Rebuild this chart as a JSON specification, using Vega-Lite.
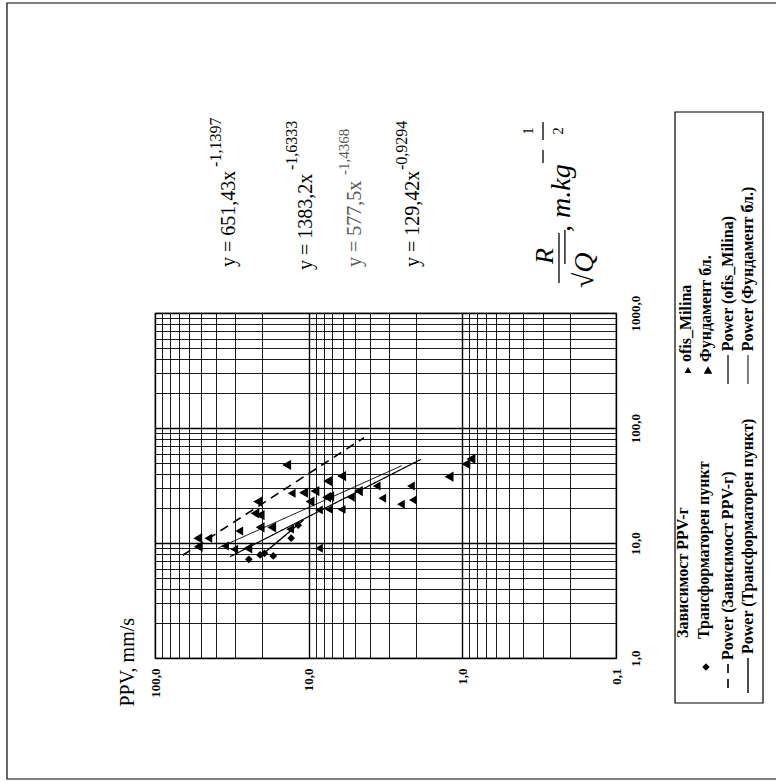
{
  "$schema": "https://vega.github.io/schema/vega-lite/v6.json",
  "width": 461,
  "height": 345,
  "autosize": {"type": "none"},
  "padding": {"left": 155, "top": 313, "right": 160, "bottom": 124},
  "background": "white",
  "config": {"view": {"stroke": "black", "strokeWidth": 1.2}},
  "datasets": {
    "points": [
      {"series": "Фундамент бл.", "ppv": 13.9, "rq": 47.7},
      {"series": "Фундамент бл.", "ppv": 6.1, "rq": 38.2},
      {"series": "Фундамент бл.", "ppv": 7.52, "rq": 34.6},
      {"series": "Фундамент бл.", "ppv": 1.22, "rq": 37.7},
      {"series": "Фундамент бл.", "ppv": 0.948, "rq": 48.6},
      {"series": "Фундамент бл.", "ppv": 0.879, "rq": 53.8},
      {"series": "Фундамент бл.", "ppv": 10.8, "rq": 27.4},
      {"series": "Фундамент бл.", "ppv": 9.1, "rq": 28.3},
      {"series": "Фундамент бл.", "ppv": 9.8, "rq": 22.9},
      {"series": "Фундамент бл.", "ppv": 7.64, "rq": 25.0},
      {"series": "Фундамент бл.", "ppv": 7.3, "rq": 25.4},
      {"series": "Фундамент бл.", "ppv": 4.75, "rq": 28.3},
      {"series": "Фундамент бл.", "ppv": 21.5, "rq": 22.9},
      {"series": "Фундамент бл.", "ppv": 22.4, "rq": 18.1},
      {"series": "Фундамент бл.", "ppv": 20.7, "rq": 17.5},
      {"series": "Фундамент бл.", "ppv": 20.7, "rq": 13.7},
      {"series": "Фундамент бл.", "ppv": 17.4, "rq": 13.7},
      {"series": "Фундамент бл.", "ppv": 52.7, "rq": 11.0},
      {"series": "Фундамент бл.", "ppv": 52.3, "rq": 9.29},
      {"series": "Фундамент бл.", "ppv": 24.9, "rq": 9.0},
      {"series": "ofis_Milina", "ppv": 3.61, "rq": 31.3},
      {"series": "ofis_Milina", "ppv": 2.16, "rq": 31.3},
      {"series": "ofis_Milina", "ppv": 12.9, "rq": 27.1},
      {"series": "ofis_Milina", "ppv": 5.31, "rq": 25.0},
      {"series": "ofis_Milina", "ppv": 3.32, "rq": 24.5},
      {"series": "ofis_Milina", "ppv": 2.1, "rq": 23.7},
      {"series": "ofis_Milina", "ppv": 2.51, "rq": 21.7},
      {"series": "ofis_Milina", "ppv": 8.57, "rq": 19.4},
      {"series": "ofis_Milina", "ppv": 7.38, "rq": 19.6},
      {"series": "ofis_Milina", "ppv": 6.1, "rq": 19.6},
      {"series": "ofis_Milina", "ppv": 28.3, "rq": 12.7},
      {"series": "ofis_Milina", "ppv": 13.2, "rq": 13.2},
      {"series": "ofis_Milina", "ppv": 45.0, "rq": 11.0},
      {"series": "ofis_Milina", "ppv": 35.0, "rq": 9.42},
      {"series": "ofis_Milina", "ppv": 30.5, "rq": 8.81},
      {"series": "ofis_Milina", "ppv": 8.57, "rq": 9.0},
      {"series": "Трансформаторен пункт", "ppv": 24.5, "rq": 7.21},
      {"series": "Трансформаторен пункт", "ppv": 20.7, "rq": 7.87},
      {"series": "Трансформаторен пункт", "ppv": 19.4, "rq": 8.13},
      {"series": "Трансформаторен пункт", "ppv": 17.0, "rq": 7.71},
      {"series": "Трансформаторен пункт", "ppv": 13.0, "rq": 11.0},
      {"series": "Трансформаторен пункт", "ppv": 11.7, "rq": 14.3}
    ],
    "trends": [
      {"series": "Зависимост PPV-г", "ppv": 66.0, "rq": 7.82},
      {"series": "Зависимост PPV-г", "ppv": 4.36, "rq": 82.4},
      {"series": "Фундамент бл.", "ppv": 38.7, "rq": 9.05},
      {"series": "Фундамент бл.", "ppv": 2.48, "rq": 47.0},
      {"series": "ofis_Milina", "ppv": 32.5, "rq": 7.6},
      {"series": "ofis_Milina", "ppv": 1.86, "rq": 53.4},
      {"series": "Трансформаторен пункт", "ppv": 20.2, "rq": 7.86},
      {"series": "Трансформаторен пункт", "ppv": 10.8, "rq": 15.85}
    ],
    "legendLines": [
      {"series": "Зависимост PPV-г", "ppv": 0.01867, "rq": 0.887, "rq2": 0.496},
      {"series": "Трансформаторен пункт", "ppv": 0.01384, "rq": 1.0, "rq2": 0.496},
      {"series": "ofis_Milina", "ppv": 0.01867, "rq": 431.3, "rq2": 241.3},
      {"series": "Фундамент бл.", "ppv": 0.01384, "rq": 431.3, "rq2": 241.3}
    ],
    "legendSymbols": [
      {"series": "Трансформаторен пункт", "ppv": 0.02596, "rq": 0.835},
      {"series": "ofis_Milina", "ppv": 0.034, "rq": 319.4},
      {"series": "Фундамент бл.", "ppv": 0.02519, "rq": 319.4}
    ],
    "legendText": [
      {"text": "Зависимост PPV-г", "ppv": 0.03664, "rq": 1.492},
      {"text": "Трансформаторен пункт", "ppv": 0.02676, "rq": 1.463},
      {"text": "Power (Зависимост PPV-г)", "ppv": 0.01867, "rq": 0.961},
      {"text": "Power (Трансформаторен пункт)", "ppv": 0.01384, "rq": 1.083},
      {"text": "ofis_Milina", "ppv": 0.03503, "rq": 375},
      {"text": "Фундамент бл.", "ppv": 0.02596, "rq": 375},
      {"text": "Power (ofis_Milina)", "ppv": 0.01867, "rq": 465},
      {"text": "Power (Фундамент бл.)", "ppv": 0.01384, "rq": 465}
    ],
    "eqBase": [
      {"text": "y = 651,43x", "ppv": 33.0, "rq": 2512},
      {"text": "y = 1383,2x", "ppv": 10.41, "rq": 2366},
      {"text": "y = 129,42x", "ppv": 2.094, "rq": 2512}
    ],
    "eqExp": [
      {"text": "-1,1397", "ppv": 40.1, "rq": 18620},
      {"text": "-1,6333", "ppv": 12.84, "rq": 17500},
      {"text": "-0,9294", "ppv": 2.47, "rq": 17500}
    ],
    "eqGrey": [
      {"text": "y = 577,5x", "ppv": 4.995, "rq": 2512, "kind": "base"},
      {"text": "-1,4368", "ppv": 5.89, "rq": 15850, "kind": "exp"}
    ],
    "titleBig": [
      {"text": "R", "ppv": 0.29, "rq": 3133, "kind": "center"},
      {"text": "√Q", "ppv": 0.159, "rq": 1649, "kind": "left"},
      {"text": ", m.kg", "ppv": 0.2246, "rq": 5060, "kind": "left"}
    ],
    "titleSmall": [
      {"text": "1", "ppv": 0.374, "rq": 38260},
      {"text": "2", "ppv": 0.2384, "rq": 38260}
    ],
    "titleRules": [
      {"part": "fraction", "ppv": 0.235, "rq": 4966, "rq2": 1823},
      {"part": "vinculum", "ppv": 0.215, "rq": 5270, "rq2": 2667},
      {"part": "minus", "ppv": 0.2985, "rq": 26140, "rq2": 20150},
      {"part": "half", "ppv": 0.2985, "rq": 45800, "rq2": 31940}
    ],
    "frames": [
      {"part": "page", "ppv": 918.7, "ppv2": 0.00738, "rq": 496400, "rq2": 0.0887},
      {"part": "legend", "ppv": 0.0413, "ppv2": 0.01105, "rq": 55960, "rq2": 0.4062}
    ]
  },
  "encoding": {
    "x": {
      "field": "ppv",
      "type": "quantitative",
      "scale": {"type": "log", "domain": [0.1, 100], "reverse": true, "nice": false, "zero": false},
      "axis": {
        "orient": "bottom",
        "title": "PPV, mm/s",
        "titleAngle": 270,
        "titleAlign": "left",
        "titleBaseline": "middle",
        "titleX": -27.5,
        "titleY": 48,
        "titleFont": "Liberation Serif",
        "titleFontSize": 20,
        "titleFontWeight": "normal",
        "titleColor": "black",
        "values": [0.1, 0.2, 0.3, 0.4, 0.5, 0.6, 0.7, 0.8, 0.9, 1, 2, 3, 4, 5, 6, 7, 8, 9, 10, 20, 30, 40, 50, 60, 70, 80, 90, 100],
        "labelExpr": "abs(log(datum.value)/LN10 - round(log(datum.value)/LN10)) < 0.001 ? replace(format(datum.value, '.1f'), '.', ',') : ''",
        "labelAngle": 270,
        "labelAlign": "right",
        "labelBaseline": "middle",
        "labelPadding": 10,
        "labelFont": "Liberation Serif",
        "labelFontSize": 13,
        "labelFontWeight": "bold",
        "labelColor": "black",
        "labelOverlap": false,
        "labelFlush": false,
        "labelBound": false,
        "ticks": false,
        "domainColor": "black",
        "grid": true,
        "gridColor": "black",
        "gridOpacity": 1,
        "gridWidth": {"condition": {"test": "abs(log(datum.value)/LN10 - round(log(datum.value)/LN10)) < 0.001", "value": 1.4}, "value": 0.9}
      }
    },
    "y": {
      "field": "rq",
      "type": "quantitative",
      "scale": {"type": "log", "domain": [1, 1000], "nice": false, "zero": false},
      "axis": {
        "orient": "right",
        "title": null,
        "values": [1, 2, 3, 4, 5, 6, 7, 8, 9, 10, 20, 30, 40, 50, 60, 70, 80, 90, 100, 200, 300, 400, 500, 600, 700, 800, 900, 1000],
        "labelExpr": "abs(log(datum.value)/LN10 - round(log(datum.value)/LN10)) < 0.001 ? replace(format(datum.value, '.1f'), '.', ',') : ''",
        "labelAngle": 270,
        "labelAlign": "center",
        "labelBaseline": "top",
        "labelPadding": 13,
        "labelFont": "Liberation Serif",
        "labelFontSize": 13,
        "labelFontWeight": "bold",
        "labelColor": "black",
        "labelOverlap": false,
        "labelFlush": false,
        "labelBound": false,
        "ticks": false,
        "domainColor": "black",
        "grid": true,
        "gridColor": "black",
        "gridOpacity": 1,
        "gridWidth": {"condition": {"test": "abs(log(datum.value)/LN10 - round(log(datum.value)/LN10)) < 0.001", "value": 1.4}, "value": 0.9}
      }
    }
  },
  "layer": [
    {
      "data": {"name": "frames"},
      "mark": {"type": "rect", "fillOpacity": 0, "stroke": "black", "strokeWidth": 1.2},
      "encoding": {"x2": {"field": "ppv2"}, "y2": {"field": "rq2"}}
    },
    {
      "data": {"name": "trends"},
      "mark": {"type": "line", "color": "black"},
      "encoding": {
        "detail": {"field": "series"},
        "strokeDash": {"field": "series", "type": "nominal", "legend": null, "scale": {"domain": ["Зависимост PPV-г", "Трансформаторен пункт", "ofis_Milina", "Фундамент бл."], "range": [[9, 6], [1, 0], [1, 0], [1, 0]]}},
        "strokeWidth": {"field": "series", "type": "nominal", "legend": null, "scale": {"domain": ["Зависимост PPV-г", "Трансформаторен пункт", "ofis_Milina", "Фундамент бл."], "range": [1.6, 1, 1, 2]}}
      }
    },
    {
      "data": {"name": "legendLines"},
      "mark": {"type": "rule", "color": "black"},
      "encoding": {
        "y2": {"field": "rq2"},
        "strokeDash": {"field": "series", "type": "nominal", "legend": null},
        "strokeWidth": {"field": "series", "type": "nominal", "legend": null}
      }
    },
    {
      "data": {"name": "points"},
      "transform": [{"filter": "datum.series == 'Трансформаторен пункт'"}],
      "mark": {"type": "point", "shape": "diamond", "filled": true, "color": "black", "opacity": 1, "size": 60}
    },
    {
      "data": {"name": "points"},
      "transform": [{"filter": "datum.series == 'ofis_Milina'"}],
      "mark": {"type": "point", "shape": "triangle-left", "filled": true, "color": "black", "opacity": 1, "size": 80}
    },
    {
      "data": {"name": "points"},
      "transform": [{"filter": "datum.series == 'Фундамент бл.'"}],
      "mark": {"type": "point", "shape": "triangle-left", "filled": true, "color": "black", "opacity": 1, "size": 105}
    },
    {
      "data": {"name": "legendSymbols"},
      "transform": [{"filter": "datum.series == 'Трансформаторен пункт'"}],
      "mark": {"type": "point", "shape": "diamond", "filled": true, "color": "black", "opacity": 1, "size": 55}
    },
    {
      "data": {"name": "legendSymbols"},
      "transform": [{"filter": "datum.series == 'ofis_Milina'"}],
      "mark": {"type": "point", "shape": "triangle-up", "filled": true, "color": "black", "opacity": 1, "size": 45}
    },
    {
      "data": {"name": "legendSymbols"},
      "transform": [{"filter": "datum.series == 'Фундамент бл.'"}],
      "mark": {"type": "point", "shape": "triangle-up", "filled": true, "color": "black", "opacity": 1, "size": 75}
    },
    {
      "data": {"name": "legendText"},
      "mark": {"type": "text", "angle": 270, "align": "left", "baseline": "middle", "font": "Liberation Serif", "fontSize": 16, "fontWeight": "bold", "color": "black"},
      "encoding": {"text": {"field": "text"}}
    },
    {
      "data": {"name": "eqBase"},
      "mark": {"type": "text", "angle": 270, "align": "left", "baseline": "middle", "font": "Liberation Serif", "fontSize": 20, "color": "black"},
      "encoding": {"text": {"field": "text"}}
    },
    {
      "data": {"name": "eqExp"},
      "mark": {"type": "text", "angle": 270, "align": "left", "baseline": "middle", "font": "Liberation Serif", "fontSize": 16, "color": "black"},
      "encoding": {"text": {"field": "text"}}
    },
    {
      "data": {"name": "eqGrey"},
      "transform": [{"filter": "datum.kind == 'base'"}],
      "mark": {"type": "text", "angle": 270, "align": "left", "baseline": "middle", "font": "Liberation Serif", "fontSize": 20, "color": "#5a5a5a"},
      "encoding": {"text": {"field": "text"}}
    },
    {
      "data": {"name": "eqGrey"},
      "transform": [{"filter": "datum.kind == 'exp'"}],
      "mark": {"type": "text", "angle": 270, "align": "left", "baseline": "middle", "font": "Liberation Serif", "fontSize": 15, "color": "#5a5a5a"},
      "encoding": {"text": {"field": "text"}}
    },
    {
      "data": {"name": "titleBig"},
      "transform": [{"filter": "datum.kind == 'center'"}],
      "mark": {"type": "text", "angle": 270, "align": "center", "baseline": "middle", "font": "Liberation Serif", "fontSize": 26, "fontStyle": "italic", "color": "black"},
      "encoding": {"text": {"field": "text"}}
    },
    {
      "data": {"name": "titleBig"},
      "transform": [{"filter": "datum.kind == 'left'"}],
      "mark": {"type": "text", "angle": 270, "align": "left", "baseline": "middle", "font": "Liberation Serif", "fontSize": 28, "fontStyle": "italic", "color": "black"},
      "encoding": {"text": {"field": "text"}}
    },
    {
      "data": {"name": "titleSmall"},
      "mark": {"type": "text", "angle": 270, "align": "center", "baseline": "middle", "font": "Liberation Serif", "fontSize": 15, "color": "black"},
      "encoding": {"text": {"field": "text"}}
    },
    {
      "data": {"name": "titleRules"},
      "mark": {"type": "rule", "color": "black", "strokeWidth": 1.3},
      "encoding": {"y2": {"field": "rq2"}}
    }
  ]
}
